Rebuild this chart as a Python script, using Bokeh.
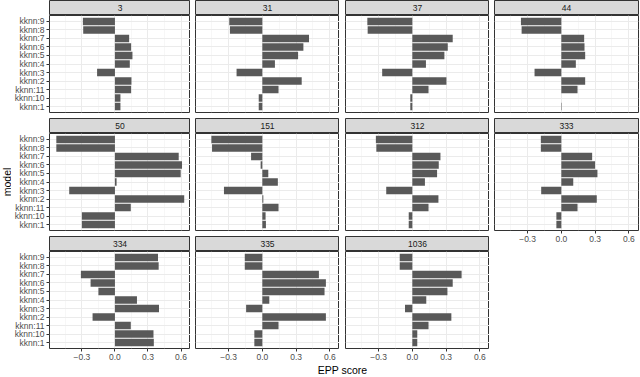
import math
from bokeh.plotting import figure
from bokeh.layouts import row, column
from bokeh.models import FactorRange, Range1d, FixedTicker, Label
from bokeh.embed import file_html
from bokeh.resources import INLINE

# ---------------- data ----------------
models = ["kknn:1", "kknn:10", "kknn:11", "kknn:2", "kknn:3", "kknn:4",
          "kknn:5", "kknn:6", "kknn:7", "kknn:8", "kknn:9"]

epp_3 = [0.05, 0.05, 0.147, 0.15, -0.162, 0.135, 0.159, 0.147, 0.129, -0.288, -0.291]
epp_31 = [-0.032, -0.032, 0.144, 0.35, -0.229, 0.112, 0.318, 0.365, 0.415, -0.288, -0.294]
epp_37 = [-0.018, -0.018, 0.144, 0.303, -0.268, 0.121, 0.285, 0.315, 0.359, -0.397, -0.4]
epp_44 = [0.004, 0.0, 0.144, 0.212, -0.238, 0.129, 0.212, 0.206, 0.203, -0.353, -0.359]
epp_50 = [-0.3, -0.3, 0.144, 0.629, -0.415, 0.015, 0.597, 0.609, 0.579, -0.532, -0.532]
epp_151 = [0.032, 0.029, 0.144, 0.009, -0.341, 0.138, 0.053, -0.015, -0.1, -0.447, -0.453]
epp_312 = [-0.032, -0.032, 0.144, 0.232, -0.232, 0.112, 0.22, 0.235, 0.25, -0.32, -0.324]
epp_333 = [-0.044, -0.044, 0.144, 0.315, -0.179, 0.106, 0.321, 0.3, 0.274, -0.182, -0.182]
epp_334 = [0.353, 0.35, 0.144, -0.203, 0.4, 0.2, -0.15, -0.221, -0.309, 0.397, 0.391]
epp_335 = [-0.071, -0.071, 0.144, 0.565, -0.144, 0.062, 0.553, 0.565, 0.503, -0.156, -0.156]
epp_1036 = [0.044, 0.044, 0.144, 0.347, -0.065, 0.124, 0.312, 0.359, 0.438, -0.112, -0.112]

panel_names = ["3", "31", "37", "44", "50", "151", "312", "333", "334", "335", "1036"]
panel_values = [epp_3, epp_31, epp_37, epp_44, epp_50, epp_151, epp_312,
                epp_333, epp_334, epp_335, epp_1036]

x_ticks = [-0.3, 0.0, 0.3, 0.6]
x_minor = [-0.45, -0.15, 0.15, 0.45]
x_tick_labels = {-0.3: "\u22120.3", 0: "0.0", 0.3: "0.3", 0.6: "0.6"}
x_title = "EPP score"
y_title = "model"

# ---------------- layout constants ----------------
FONT = "Liberation Sans"
M = 11                 # width of the y-title column
L = 35                 # left border (tick labels) of first column
F = 144                # frame width
GAPS = [0, 5, 6, 5]    # left gap per column (after the previous frame)
R = 1                  # right border of last column
S = 15                 # strip height
H = 97                 # frame height
VG = 6                 # vertical gap between rows
AX = 15                # bottom axis space
TH = 14                # height of x-title strip
NCOL = 4
XMIN, XMAX = -0.594, 0.686
TICK_FS = "8.5px"
TITLE_FS = "10.5px"


def borders(ci):
    left = L if ci == 0 else GAPS[ci]
    right = R if ci == NCOL - 1 else 0
    return left, right


def make_strip(name, ci):
    left, right = borders(ci)
    s = figure(width=left + F + right, height=S, x_range=Range1d(0, 1), y_range=Range1d(0, 1),
               toolbar_location=None, output_backend="svg", title=None,
               x_axis_location=None, y_axis_location=None,
               min_border_left=left, min_border_right=right, min_border_top=0, min_border_bottom=0)
    s.grid.visible = False
    s.background_fill_color = "#D9D9D9"
    s.border_fill_color = "white"
    s.outline_line_color = "#333333"
    s.outline_line_width = 1
    s.add_layout(Label(x=0.5, y=0.5, text=name, text_align="center", text_baseline="middle",
                       text_font_size=TICK_FS, text_font_style="normal",
                       text_color="#1A1A1A", text_font=FONT))
    return s


def style_axis(ax):
    ax.axis_line_color = None
    ax.major_tick_line_color = "#333333"
    ax.major_tick_out = 3
    ax.major_tick_in = 0
    ax.minor_tick_line_color = None
    ax.major_label_standoff = 2
    ax.major_label_text_font_size = TICK_FS
    ax.major_label_text_font_style = "normal"
    ax.major_label_text_color = "#4D4D4D"
    ax.major_label_text_font = FONT


def make_panel(values, ci, show_x):
    left, right = borders(ci)
    bottom = AX if show_x else VG
    p = figure(width=left + F + right, height=H + bottom,
               x_range=Range1d(XMIN, XMAX),
               y_range=FactorRange(factors=models, range_padding=0.2, range_padding_units="absolute"),
               toolbar_location=None, output_backend="svg", title=None,
               x_axis_location="below" if show_x else None,
               y_axis_location="left" if ci == 0 else None,
               min_border_left=left, min_border_right=right, min_border_top=0,
               min_border_bottom=bottom)
    p.background_fill_color = "white"
    p.border_fill_color = "white"
    p.outline_line_color = "#333333"
    p.outline_line_width = 1

    p.xgrid.ticker = FixedTicker(ticks=x_ticks, minor_ticks=x_minor)
    p.xgrid.grid_line_color = "#EBEBEB"
    p.xgrid.grid_line_width = 1
    p.xgrid.minor_grid_line_color = "#F1F1F1"
    p.xgrid.minor_grid_line_width = 0.6
    p.ygrid.grid_line_color = "#EBEBEB"
    p.ygrid.grid_line_width = 1

    p.hbar(y=models, left=0, right=values, height=0.9, fill_color="#595959", line_color=None)

    if show_x:
        ax = p.xaxis[0]
        ax.ticker = FixedTicker(ticks=x_ticks, minor_ticks=[])
        ax.major_label_overrides = x_tick_labels
        style_axis(ax)
    if ci == 0:
        style_axis(p.yaxis[0])
    return p


n = len(panel_names)
nrows = (n + NCOL - 1) // NCOL
grid_h = nrows * (S + H) + (nrows - 1) * VG + AX

# y title column
ym = figure(width=M, height=grid_h, x_range=Range1d(0, M), y_range=Range1d(grid_h, 0),
            toolbar_location=None, output_backend="svg", title=None,
            x_axis_location=None, y_axis_location=None,
            min_border_left=0, min_border_right=0, min_border_top=0, min_border_bottom=0)
ym.grid.visible = False
ym.outline_line_color = None
ym.add_layout(Label(x=M / 2 + 0.5, y=(S + (grid_h - AX)) / 2, text=y_title, angle=math.pi / 2,
                    text_align="center", text_baseline="middle", text_font_size=TITLE_FS,
                    text_font_style="normal", text_color="black", text_font=FONT))

cols = [ym]
for ci in range(NCOL):
    kids = []
    for ri in range(nrows):
        k = ri * NCOL + ci
        if k >= n:
            continue
        last_in_col = (k + NCOL >= n)
        kids.append(make_strip(panel_names[k], ci))
        kids.append(make_panel(panel_values[k], ci, show_x=last_in_col))
    cols.append(column(kids, spacing=0))

grid = row(cols, spacing=0)

frames_left = M + L
frames_right = frames_left + NCOL * F + sum(GAPS)
total_w = frames_right + R
t = figure(width=total_w, height=TH, x_range=Range1d(0, total_w), y_range=Range1d(0, 1),
           toolbar_location=None, output_backend="svg", title=None,
           x_axis_location=None, y_axis_location=None,
           min_border_left=0, min_border_right=0, min_border_top=0, min_border_bottom=0)
t.grid.visible = False
t.outline_line_color = None
t.background_fill_color = "white"
t.border_fill_color = "white"
t.add_layout(Label(x=(frames_left + frames_right) / 2, y=0.55, text=x_title,
                   text_align="center", text_baseline="middle",
                   text_font_size=TITLE_FS, text_font_style="normal",
                   text_color="black", text_font=FONT))

layout = column([grid, t], spacing=0)

open("out.html", "w").write(file_html(layout, INLINE))
